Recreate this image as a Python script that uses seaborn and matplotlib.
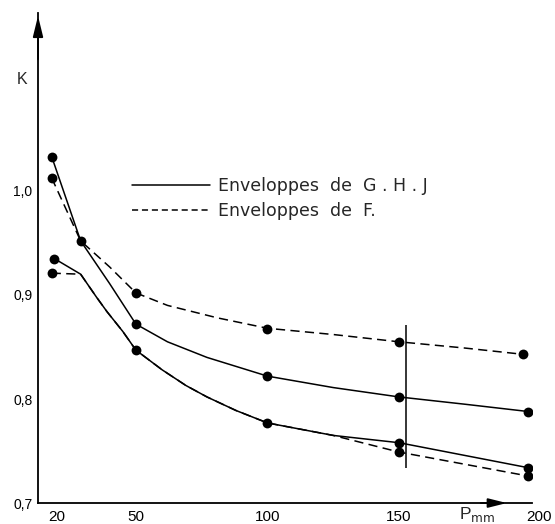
import matplotlib
matplotlib.use("Agg")
import matplotlib.pyplot as plt
from matplotlib.lines import Line2D
from matplotlib.transforms import ScaledTranslation
import seaborn as sns

sns.set_theme(style="white")
plt.rcParams['font.family'] = ['Liberation Sans', 'DejaVu Sans']

# valeurs (P en mm, K)
p_ticks = [20, 50, 100, 150, 200]
k_ticks = [0.7, 0.8, 0.9, 1.0]
k_tick_labels = ["0,7", "0,8", "0,9", "1,0"]

# enveloppes de G.H.J (trait plein) - tracé des courbes
ghj_haut_p = [18, 29, 40, 50, 62, 77, 100, 125, 150, 175, 199]
ghj_haut_k = [1.033, 0.952, 0.911, 0.872, 0.855, 0.840, 0.822, 0.811, 0.802, 0.795, 0.788]
ghj_bas_p = [19, 29, 35, 39, 45, 50, 60, 69, 77, 88, 100, 125, 150, 199]
ghj_bas_k = [0.935, 0.920, 0.898, 0.884, 0.865, 0.847, 0.828, 0.813, 0.802, 0.789, 0.777, 0.765, 0.758, 0.734]

# enveloppes de F (tirets)
f_haut_p = [18, 29, 40, 50, 62, 81, 100, 125, 150, 175, 197]
f_haut_k = [1.0125, 0.952, 0.927, 0.902, 0.890, 0.878, 0.868, 0.862, 0.855, 0.849, 0.843]
f_bas_p = [18, 29, 35, 39, 45, 50, 60, 69, 77, 88, 100, 125, 150, 199]
f_bas_k = [0.921, 0.920, 0.898, 0.884, 0.865, 0.847, 0.828, 0.813, 0.802, 0.789, 0.777, 0.765, 0.749, 0.726]

# points de mesure
pts_p = [18, 29, 50, 100, 150, 199,
         18, 50, 100, 150, 197,
         19, 50, 100, 150, 199,
         18, 150, 199]
pts_k = [1.033, 0.952, 0.872, 0.822, 0.802, 0.788,
         1.0125, 0.902, 0.867, 0.855, 0.843,
         0.935, 0.847, 0.777, 0.758, 0.734,
         0.921, 0.749, 0.726]

# trait vertical vers P = 150
trait_p = 152.5
trait_k = [0.734, 0.871]

fig = plt.figure(figsize=(5.55, 5.24), dpi=100)
ax = fig.add_axes([0.0685, 0.040, 0.890, 0.935])

tirets = (0, (6, 3.5))
sns.lineplot(x=ghj_haut_p, y=ghj_haut_k, sort=False, estimator=None, color='black', lw=1.1, ax=ax)
sns.lineplot(x=ghj_bas_p, y=ghj_bas_k, sort=False, estimator=None, color='black', lw=1.1, ax=ax)
sns.lineplot(x=f_haut_p, y=f_haut_k, sort=False, estimator=None, color='black', lw=1.1, linestyle=tirets, ax=ax)
sns.lineplot(x=f_bas_p, y=f_bas_k, sort=False, estimator=None, color='black', lw=1.1, linestyle=tirets, ax=ax)
sns.scatterplot(x=pts_p, y=pts_k, color='black', s=50, linewidth=0, zorder=5, ax=ax)
ax.vlines(trait_p, trait_k[0], trait_k[1], color='black', lw=1.1)

ax.set_xlim(12.8, 200.5)
ax.set_ylim(0.7, 1.171)
ax.set_xticks(p_ticks)
ax.set_xticklabels([str(p) for p in p_ticks])
ax.set_yticks(k_ticks)
ax.set_yticklabels(k_tick_labels)
ax.tick_params(axis='x', direction='inout', length=8, width=1.1, pad=1, labelsize=11, colors='black')
ax.tick_params(axis='y', direction='inout', length=8, width=1.1, pad=0, labelsize=10, colors='black')

# le "200" est un peu décalé à droite sur l'original
lbl = ax.get_xticklabels()[-1]
lbl.set_transform(lbl.get_transform() + ScaledTranslation(0.08, 0, fig.dpi_scale_trans))

for s in ['top', 'right']:
    ax.spines[s].set_visible(False)
for s in ['left', 'bottom']:
    ax.spines[s].set_color('black')
    ax.spines[s].set_linewidth(1.3)
ax.patch.set_alpha(0)

# flèches des axes
ax.annotate('', xy=(0, 1.0), xytext=(0, 0.9), xycoords='axes fraction',
            arrowprops=dict(arrowstyle='-|>,head_length=0.9,head_width=0.22',
                            mutation_scale=14, color='black', lw=1.3))
ax.annotate('', xy=(192, 0.7), xytext=(180, 0.7), xycoords='data',
            arrowprops=dict(arrowstyle='-|>,head_length=0.8,head_width=0.2',
                            mutation_scale=14, color='black', lw=1.3), annotation_clip=False)

fig.text(22 / 555, 1 - 80 / 524, "K", fontsize=11.5, ha='center', va='center')
ax.text(179.5, 0.6985, "P$_{\\mathrm{mm}}$", fontsize=12.5, ha='center', va='top', clip_on=False)

handles = [Line2D([], [], color='black', lw=1.1),
           Line2D([], [], color='black', lw=1.1, linestyle=(0, (4, 2.5)))]
ax.legend(handles, ["Enveloppes  de  G . H . J", "Enveloppes  de  F."],
          frameon=False, loc='upper left', bbox_to_anchor=(132 / 555, 1 - 177 / 524),
          bbox_transform=fig.transFigure, prop={'family': 'DejaVu Sans', 'size': 12.5},
          handlelength=4.5, handletextpad=0.45, labelspacing=0.4, borderpad=0, borderaxespad=0)

fig.savefig("out.png", dpi=100, facecolor='white')
